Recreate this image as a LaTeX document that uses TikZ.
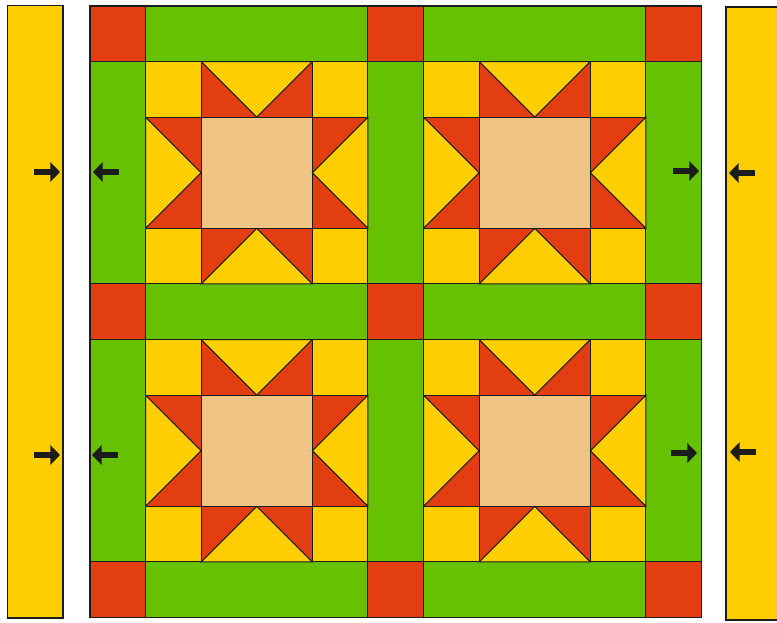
\documentclass[tikz,border=0pt]{standalone}
\usetikzlibrary{arrows.meta}

\definecolor{quiltyellow}{HTML}{FFCE00}
\definecolor{quiltred}{HTML}{E33D12}
\definecolor{quiltgreen}{HTML}{66C102}
\definecolor{quiltbeige}{HTML}{EFC484}
\definecolor{quiltline}{HTML}{1C1C1C}

\begin{document}
\begin{tikzpicture}[x=0.02cm, y=-0.02cm, line join=miter]
    % Style definitions
    \tikzset{patch/.style={draw=quiltline, line width=0.6pt}}
    \tikzset{strip/.style={patch, fill=quiltyellow}}
    \tikzset{pressarrow/.style={line width=3.4pt, draw=quiltline, -{Triangle[length=5.5pt, width=11pt]}}}

    \useasboundingbox (0,0) rectangle (777,622);
    \clip (0,0) rectangle (777,622);

    % Side strips
    \draw [strip] (7.5,5.5) rectangle (63,618);
    \draw [strip] (726,7) rectangle (800,620);

    % Sashing and cornerstones
    \begin{scope}[shift={(90,6)}, x=1.112cm, y=-1.112cm]
        \foreach \c in {0,5,10} {
            \foreach \r in {0,5,10} {
                \draw [patch, fill=quiltred] (\c,\r) rectangle ++(1,1);
            }
        }
        \foreach \r in {0,5,10} {
            \foreach \c in {1,6} {
                \draw [patch, fill=quiltgreen] (\c,\r) rectangle ++(4,1);
                \draw [patch, fill=quiltgreen] (\r,\c) rectangle ++(1,4);
            }
        }

        % Star blocks
        \foreach \bx in {1,6} {
            \foreach \by in {1,6} {
                \begin{scope}[shift={(\bx,\by)}]
                    % corners
                    \foreach \cx/\cy in {0/0, 3/0, 0/3, 3/3}
                        \draw [patch, fill=quiltyellow] (\cx,\cy) rectangle ++(1,1);
                    % centre
                    \draw [patch, fill=quiltbeige] (1,1) rectangle (3,3);
                    % flying geese
                    \draw [patch, fill=quiltred] (1,0) rectangle (3,1);
                    \draw [patch, fill=quiltyellow] (1,0) -- (3,0) -- (2,1) -- cycle;
                    \draw [patch, fill=quiltred] (1,3) rectangle (3,4);
                    \draw [patch, fill=quiltyellow] (1,4) -- (3,4) -- (2,3) -- cycle;
                    \draw [patch, fill=quiltred] (0,1) rectangle (1,3);
                    \draw [patch, fill=quiltyellow] (0,1) -- (0,3) -- (1,2) -- cycle;
                    \draw [patch, fill=quiltred] (3,1) rectangle (4,3);
                    \draw [patch, fill=quiltyellow] (4,1) -- (4,3) -- (3,2) -- cycle;
                \end{scope}
            }
        }
    \end{scope}

    % Pressing arrows
    \coordinate (ls1) at (34,172);  \coordinate (le1) at (60,172);
    \coordinate (ls2) at (34,455);  \coordinate (le2) at (60,455);
    \coordinate (gs1) at (119,172); \coordinate (ge1) at (93,172);
    \coordinate (gs2) at (118,455); \coordinate (ge2) at (92,455);
    \coordinate (hs1) at (673,171); \coordinate (he1) at (699,171);
    \coordinate (hs2) at (671,453); \coordinate (he2) at (697,453);
    \coordinate (rs1) at (755,173); \coordinate (re1) at (729,173);
    \coordinate (rs2) at (756,452); \coordinate (re2) at (730,452);
    \foreach \a in {l,g,h,r} {
        \foreach \n in {1,2}
            \draw [pressarrow] (\a s\n) -- (\a e\n);
    }
\end{tikzpicture}
\end{document}
